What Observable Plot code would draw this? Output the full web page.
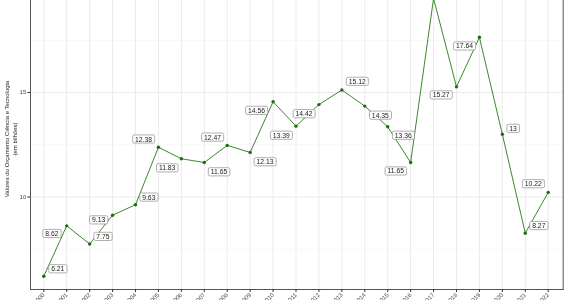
<!DOCTYPE html>
<html><head><meta charset="utf-8">
<script src="https://cdn.jsdelivr.net/npm/d3@7"></script>
<script src="https://cdn.jsdelivr.net/npm/@observablehq/plot@0.6"></script>
<style>body{margin:0;background:#fff} svg{will-change:transform;-webkit-font-smoothing:antialiased;}</style>
</head><body><div id="chart"></div>
<script>
const years = [2000,2001,2002,2003,2004,2005,2006,2007,2008,2009,2010,2011,2012,2013,2014,2015,2016,2017,2018,2019,2020,2021,2022];
const values = [6.21,8.62,7.75,9.13,9.63,12.38,11.83,11.65,12.47,12.13,14.56,13.39,14.42,15.12,14.35,13.36,11.65,19.5,15.27,17.64,13,8.27,10.22];
// repelled label offsets (years, billions)
const labelNudgeX = [0.61,-0.65,0.58,-0.61,0.58,-0.65,-0.62,0.64,-0.64,0.65,-0.72,-0.64,-0.65,0.67,0.68,0.68,-0.65,0,-0.67,-0.65,0.47,0.59,-0.65];
const labelNudgeY = [0.34,-0.38,0.35,-0.24,0.35,0.38,-0.45,-0.46,0.38,-0.46,-0.43,-0.45,-0.45,0.40,-0.45,-0.42,-0.42,0.5,-0.40,-0.43,0.27,0.35,0.40];
const yTicks = [10, 15, 20];
const yMinor = [7.5, 12.5, 17.5];
const yTitle = ["Valores do Orçamento Ciência e Tecnologia", "(em bilhões)"];

const data = years.map((year, i) => ({
  year, value: values[i],
  lx: year + labelNudgeX[i], ly: values[i] + labelNudgeY[i],
  label: String(values[i])
}));

const font = "'Liberation Sans', Arial, sans-serif";
const chart = Plot.plot({
  width: 566, height: 300,
  marginTop: 0, marginBottom: 11, marginLeft: 30, marginRight: 3.3,
  style: {fontFamily: font, fontSize: "6px", color: "#4d4d4d", background: "#fff", overflow: "hidden"},
  x: {domain: [2000, 2022], range: [43.3, 547.7]},
  y: {domain: [10, 15], range: [196.5, 92]},
  marks: [
    Plot.gridY(yMinor, {stroke: "#f2f2f2", strokeOpacity: 1, strokeWidth: 0.6}),
    Plot.gridY(yTicks, {stroke: "#ebebeb", strokeOpacity: 1, strokeWidth: 1}),
    Plot.gridX(years, {stroke: "#ebebeb", strokeOpacity: 1, strokeWidth: 1}),
    Plot.frame({anchor: "left", stroke: "#555", strokeWidth: 1}),
    Plot.frame({anchor: "bottom", stroke: "#555", strokeWidth: 1}),
    Plot.frame({anchor: "right", stroke: "#555", strokeWidth: 1}),
    Plot.line(data, {x: "year", y: "value", stroke: "#3a8a2b", strokeWidth: 1, clip: true}),
    Plot.dot(data, {x: "year", y: "value", r: 1.7, fill: "#1e6b12", stroke: "none", clip: true}),
    Plot.text(data, {x: "lx", y: "ly", text: "label", fontSize: 6.8, fill: "#1a1a1a", clip: true, className: "replabel"}),
    Plot.axisY(yTicks, {tickSize: 2.7, tickPadding: 1.5, label: null, stroke: "#333", fontSize: 6}),
    Plot.axisX(years, {tickRotate: -45, tickFormat: d => String(d), tickSize: 3, tickPadding: 1.5, label: null, stroke: "#333", fontSize: 6}),
    Plot.text([yTitle.join("\n")], {frameAnchor: "left", dx: -20, dy: -6, rotate: -90, fontSize: 6, lineHeight: 1.3, fill: "#1a1a1a", textAnchor: "middle"})
  ]
});
document.getElementById("chart").appendChild(chart);

// label boxes (ggrepel-style) behind label texts
const texts = chart.querySelectorAll(".replabel text");
texts.forEach(t => {
  const b = t.getBBox();
  const r = document.createElementNS("http://www.w3.org/2000/svg", "rect");
  const px = 2.4, py = 0.6;
  r.setAttribute("x", b.x - px);
  r.setAttribute("y", b.y - py);
  r.setAttribute("width", b.width + 2 * px);
  r.setAttribute("height", b.height + 2 * py);
  r.setAttribute("rx", 1.5);
  r.setAttribute("fill", "#fff");
  r.setAttribute("stroke", "#8c8c8c");
  r.setAttribute("stroke-width", 0.7);
  const tr = t.getAttribute("transform");
  if (tr) r.setAttribute("transform", tr);
  t.parentNode.insertBefore(r, t);
});
</script>
</body></html>
